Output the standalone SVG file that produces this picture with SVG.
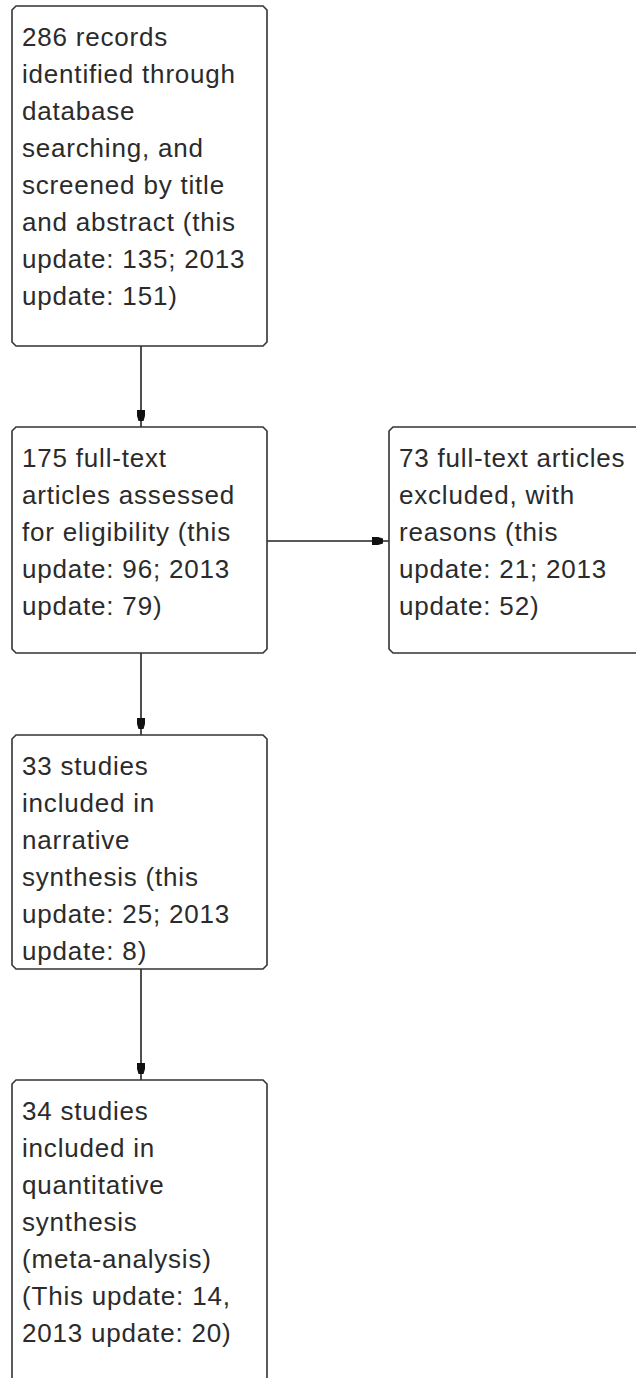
<svg xmlns="http://www.w3.org/2000/svg" width="636" height="1378" viewBox="0 0 636 1378">
  <style>
    .box { fill: #ffffff; stroke: #333333; stroke-width: 1.6; }
    .txt { font-family: "Liberation Sans", Arial, sans-serif; font-size: 26px; letter-spacing: 0.8px; fill: #2b2b2b; }
    .edge { stroke: #222222; stroke-width: 1.6; fill: none; marker-end: url(#arr); }
  </style>
  <defs>
    <marker id="arr" markerUnits="userSpaceOnUse" markerWidth="20" markerHeight="20" viewBox="-2 -10 20 20" refX="17" refY="0" orient="auto">
      <path d="M0,-4 L6,-4 L11,-2.5 L11,2.5 L6,4 L0,4 Z" fill="#111111"/>
    </marker>
  </defs>
  <rect width="636" height="1378" fill="#ffffff"/>

  <g id="connectors">
    <line class="edge" x1="141" y1="346" x2="141" y2="427"/>
    <line class="edge" x1="267" y1="541" x2="389" y2="541"/>
    <line class="edge" x1="141" y1="653" x2="141" y2="735"/>
    <line class="edge" x1="141" y1="969" x2="141" y2="1080"/>
  </g>

  <g id="records">
    <path class="box" d="M16,6 H263 L267,10 V342 L263,346 H16 L12,342 V10 Z"/>
    <text class="txt" x="22" y="46">286 records</text>
    <text class="txt" x="22" y="83">identified through</text>
    <text class="txt" x="22" y="120">database</text>
    <text class="txt" x="22" y="157">searching, and</text>
    <text class="txt" x="22" y="194">screened by title</text>
    <text class="txt" x="22" y="231">and abstract (this</text>
    <text class="txt" x="22" y="268">update: 135; 2013</text>
    <text class="txt" x="22" y="305">update: 151)</text>
  </g>

  <g id="fulltext">
    <path class="box" d="M16,427 H263 L267,431 V649 L263,653 H16 L12,649 V431 Z"/>
    <text class="txt" x="22" y="467">175 full-text</text>
    <text class="txt" x="22" y="504">articles assessed</text>
    <text class="txt" x="22" y="541">for eligibility (this</text>
    <text class="txt" x="22" y="578">update: 96; 2013</text>
    <text class="txt" x="22" y="615">update: 79)</text>
  </g>

  <g id="excluded">
    <path class="box" d="M393,427 H646 V653 H393 L389,649 V431 Z"/>
    <text class="txt" x="399" y="467">73 full-text articles</text>
    <text class="txt" x="399" y="504">excluded, with</text>
    <text class="txt" x="399" y="541">reasons (this</text>
    <text class="txt" x="399" y="578">update: 21; 2013</text>
    <text class="txt" x="399" y="615">update: 52)</text>
  </g>

  <g id="narrative">
    <path class="box" d="M16,735 H263 L267,739 V965 L263,969 H16 L12,965 V739 Z"/>
    <text class="txt" x="22" y="775">33 studies</text>
    <text class="txt" x="22" y="812">included in</text>
    <text class="txt" x="22" y="849">narrative</text>
    <text class="txt" x="22" y="886">synthesis (this</text>
    <text class="txt" x="22" y="923">update: 25; 2013</text>
    <text class="txt" x="22" y="960">update: 8)</text>
  </g>

  <g id="quantitative">
    <path class="box" d="M12,1390 V1084 L16,1080 H263 L267,1084 V1390"/>
    <text class="txt" x="22" y="1120">34 studies</text>
    <text class="txt" x="22" y="1157">included in</text>
    <text class="txt" x="22" y="1194">quantitative</text>
    <text class="txt" x="22" y="1231">synthesis</text>
    <text class="txt" x="22" y="1268">(meta-analysis)</text>
    <text class="txt" x="22" y="1305">(This update: 14,</text>
    <text class="txt" x="22" y="1342">2013 update: 20)</text>
  </g>
</svg>
